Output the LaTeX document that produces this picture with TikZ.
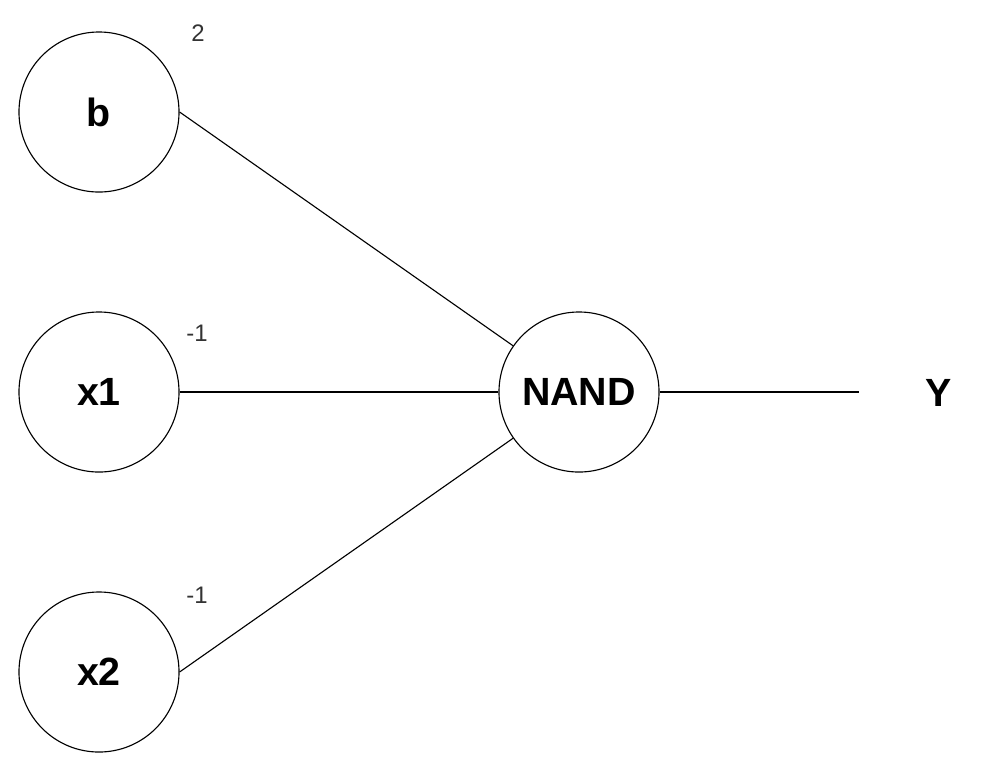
\documentclass[tikz,border=0pt]{standalone}
\usepackage{fontspec}
\setmainfont{Liberation Sans}

\begin{document}
\begin{tikzpicture}[x = 0.025 cm, y = -0.025 cm,
	neuron/.style = {draw, circle, line width = 0.8 pt, minimum size = 4 cm, inner sep = 0 pt, font = \fontsize{28}{34}\selectfont\bfseries},
	weight/.style = {text = black!80, font = \fontsize{17}{20}\selectfont},
	wire/.style = {line width = 0.8 pt}]

	% Frame
	
	\useasboundingbox (0, 0) rectangle (986, 779);

	% Inputs
	
	\node [neuron] (b) at (99, 112) {b};
	\node [neuron] (x1) at (99, 392) {x1};
	\node [neuron] (x2) at (99, 672) {x2};
	
	% Weights
	
	\node [weight] (wb) at (198, 33) {2};
	\node [weight] (w1) at (197, 333) {-1};
	\node [weight] (w2) at (197, 595) {-1};
	
	% Gate + output
	
	\node [neuron] (nand) at (579, 392) {NAND};
	\coordinate (out) at (859, 392);
	\node [font = \fontsize{28}{34}\selectfont\bfseries] (y) at (939, 393) {Y};
	
	% Connections
	
	\draw [wire] (b.east) -- (nand);
	\draw [wire] (x1.east) -- (nand.west);
	\draw [wire] (x2.east) -- (nand);
	\draw [wire] (nand.east) -- (out);
	
\end{tikzpicture}
\end{document}
